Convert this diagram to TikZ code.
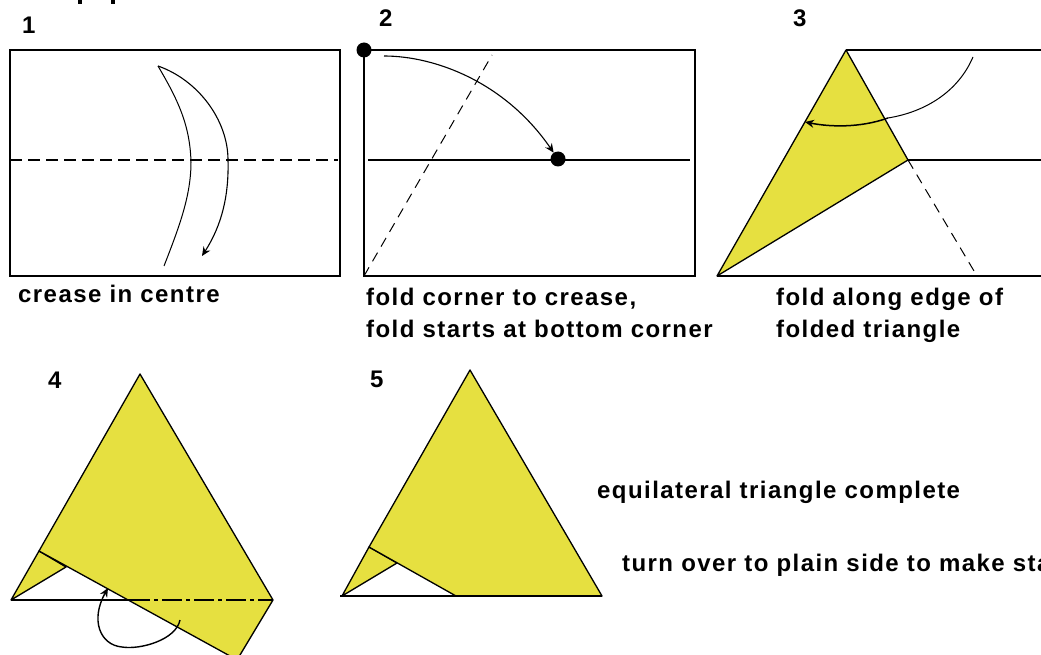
\documentclass[tikz,border=0pt]{standalone}
\usepackage{fontspec}
\usepackage{xcolor}
\newfontfamily\foldfont[LetterSpace=6]{Liberation Sans}
\usetikzlibrary{
	arrows.meta
}
\definecolor{PaperYellow}{RGB}{230,224,64}
\tikzset{
	edge/.style={line width=1.6pt, black},
	thinline/.style={line width=1pt, black},
	crease/.style={line width=1.4pt, dash pattern=on 12pt off 6pt},
	flap/.style={fill=PaperYellow, draw=black, line width=1.3pt, line join=round},
	foldarrow/.style={line width=1.1pt, -{Stealth[length=9pt,width=8pt]}},
	blob/.style={circle, fill=black, inner sep=0pt, minimum size=15pt},
	caption/.style={anchor=base west, inner sep=0pt, font=\foldfont\bfseries\fontsize{24}{24}\selectfont},
	stepnum/.style={anchor=base west, inner sep=0pt, font=\foldfont\bfseries\fontsize{24}{24}\selectfont}
}

\begin{document}
\begin{tikzpicture}[x=1pt, y=-1pt]
		\useasboundingbox (0,0) rectangle (1041,655);
		\clip (0,0) rectangle (1041,655);
		\fill[white] (0,0) rectangle (1041,655);
		% cut off heading
		\fill (78,0) rectangle (82,4);
		\fill (111,0) rectangle (115,4);

		% step 1
		\coordinate (A1) at (10,50);
		\coordinate (B1) at (340,276);
		\coordinate (L1) at (10,160);
		\coordinate (R1) at (338,160);
		\coordinate (T1) at (158,66);
		\coordinate (I1) at (191,162);
		\coordinate (E1) at (164,266);
		\coordinate (O1) at (228,160);
		\coordinate (H1) at (202,256);
		\draw[edge] (A1) rectangle (B1);
		\draw[crease] (L1)--(R1);
		\draw[thinline] (E1) .. controls (180,225) and (191,195) .. (I1) .. controls (190,125) and (178,100) .. (T1);
		\draw[foldarrow] (T1) .. controls (198,80) and (228,120) .. (O1) .. controls (229,195) and (222,225) .. (H1);
		\node[stepnum] (n1) at (22,34) {1};
		\node[caption] (c1) at (18,302) {crease in centre};

		% step 2
		\coordinate (A2) at (364,50);
		\coordinate (B2) at (695,276);
		\coordinate (C2) at (364,276);
		\coordinate (D2) at (492,55);
		\coordinate (L2) at (368,160);
		\coordinate (R2) at (690,160);
		\coordinate (S2) at (384,56);
		\draw[edge] (A2) rectangle (B2);
		\draw[edge] (L2)--(R2);
		\draw[thinline, dash pattern=on 10pt off 7pt] (C2)--(D2);
		\node[blob] (d1) at (A2) {};
		\node[blob] (d2) at (558,159) {};
		\draw[foldarrow] (S2) .. controls (435,56) and (505,82) .. (d2);
		\node[stepnum] (n2) at (379,27) {2};
		\node[caption] (c2) at (366,305) {fold corner to crease,};
		\node[caption] (c2b) at (366,337) {fold starts at bottom corner};

		% step 3
		\coordinate (A3) at (846,50);
		\coordinate (B3) at (908,160);
		\coordinate (C3) at (717,276);
		\coordinate (D3) at (977,276);
		\coordinate (S3) at (973,57);
		\coordinate (M3) at (888,118);
		\coordinate (H3) at (805,122);
		\draw[edge] (A3)--(1041,50);
		\draw[edge] (B3)--(1041,160);
		\draw[edge] (C3)--(1041,276);
		\draw[flap] (A3)--(B3)--(C3)--cycle;
		\draw[thinline, dash pattern=on 10pt off 7pt] (B3)--(D3);
		\draw[thinline] (S3) .. controls (958,92) and (925,112) .. (M3);
		\draw[foldarrow, line width=1.5pt] (M3) .. controls (860,128) and (830,127) .. (H3);
		\node[stepnum] (n3) at (793,27) {3};
		\node[caption] (c3) at (776,305) {fold along edge of};
		\node[caption] (c3b) at (776,337) {folded triangle};

		% step 4
		\coordinate (A4) at (140,374);
		\coordinate (B4) at (273,600);
		\coordinate (C4) at (11,600);
		\coordinate (D4) at (39,551);
		\coordinate (E4) at (66,567);
		\coordinate (F4) at (130,600);
		\coordinate (G4) at (237,660);
		\coordinate (K4) at (230,656);
		\draw[flap] (C4)--(D4)--(E4)--cycle;
		\draw[flap] (A4)--(B4)--(G4)--(K4)--(D4)--cycle;
		\draw[edge] (C4)--(F4);
		\draw[line width=1.5pt, dash pattern=on 20pt off 4pt on 4pt off 4pt] (F4)--(B4);
		\draw[foldarrow, line width=1.4pt] (180,620) .. controls (176,640) and (140,650) .. (122,647) .. controls (100,645) and (90,620) .. (108,588);
		\node[stepnum] (n4) at (48,388) {4};

		% step 5
		\coordinate (A5) at (470,370);
		\coordinate (B5) at (602,596);
		\coordinate (C5) at (342,596);
		\coordinate (D5) at (369,547);
		\coordinate (E5) at (397,563);
		\coordinate (F5) at (456,596);
		\draw[flap] (C5)--(D5)--(E5)--cycle;
		\draw[flap] (A5)--(B5)--(F5)--(D5)--cycle;
		\draw[edge] (340,596)--(B5);
		\node[stepnum] (n5) at (370,387) {5};
		\node[caption] (c5) at (597,498) {equilateral triangle complete};
		\node[caption] (c5b) at (622,571) {turn over to plain side to make sta};
	\end{tikzpicture}
\end{document}
